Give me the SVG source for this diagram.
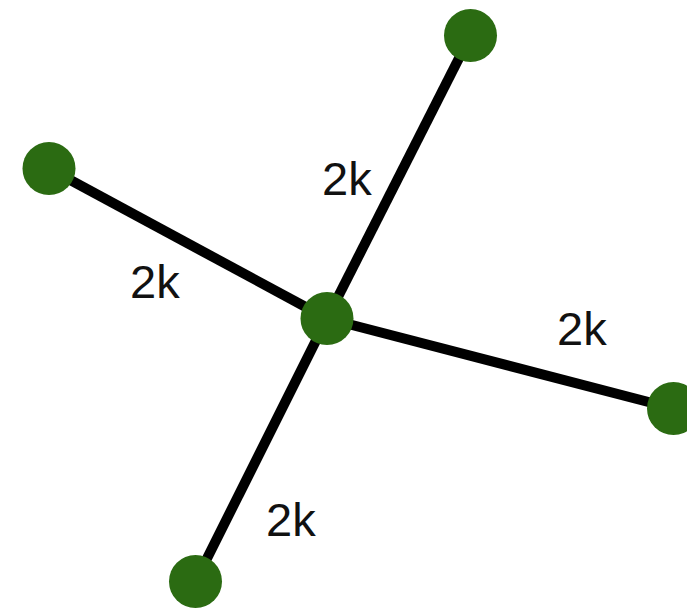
<svg xmlns="http://www.w3.org/2000/svg" width="687" height="608" viewBox="0 0 687 608">
  <style>
    .edge { stroke: #000; stroke-width: 10; stroke-linecap: butt; }
    .node { fill: #2b6b12; }
    .label { font-family: "Liberation Sans", Arial, sans-serif; font-size: 47px; fill: #111; }
  </style>
  <rect width="687" height="608" fill="#fff"/>
  <g id="edges">
    <line class="edge" x1="327" y1="318.5" x2="470.5" y2="35.5"/>
    <line class="edge" x1="327" y1="318.5" x2="49" y2="168.5"/>
    <line class="edge" x1="327" y1="318.5" x2="673.5" y2="408.5"/>
    <line class="edge" x1="327" y1="318.5" x2="195.5" y2="581.5"/>
  </g>
  <g id="labels">
    <text class="label" x="322" y="195">2k</text>
    <text class="label" x="130" y="298">2k</text>
    <text class="label" x="557" y="345">2k</text>
    <text class="label" x="266" y="536">2k</text>
  </g>
  <g id="node-center"><circle class="node" cx="327" cy="318.5" r="26.5"/></g>
  <g id="node-top"><circle class="node" cx="470.5" cy="35.5" r="26.5"/></g>
  <g id="node-left"><circle class="node" cx="49" cy="168.5" r="26.5"/></g>
  <g id="node-right"><circle class="node" cx="673.5" cy="408.5" r="26.5"/></g>
  <g id="node-bottom"><circle class="node" cx="195.5" cy="581.5" r="26.5"/></g>
</svg>
